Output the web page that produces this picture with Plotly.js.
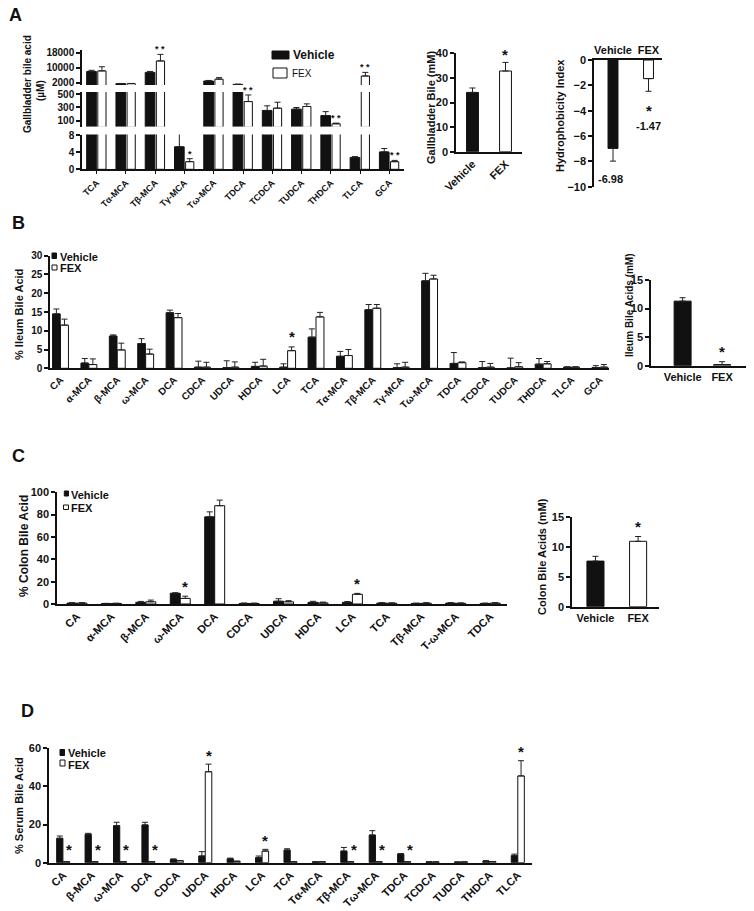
<!DOCTYPE html>
<html><head><meta charset="utf-8">
<script src="https://cdn.plot.ly/plotly-3.0.1.min.js"></script>
<style>html,body{margin:0;padding:0;background:#fff}#chart{width:754px;height:911px}</style>
</head><body><div id="chart"></div>
<script>
// ===== DATA =====
// Panel A: gallbladder bile acids (uM)
const gbCats = ['TCA','Tα-MCA','Tβ-MCA','Tγ-MCA','Tω-MCA','TDCA','TCDCA','TUDCA','THDCA','TLCA','GCA'];
const gbVeh    = [8000, 1500, 7500, 5.3, 2900, 1100, 255, 275, 177, 2.8, 4.1];
const gbVehErr = [600, 100, 500, 3.5, 300, 100, 70, 25, 60, 0.2, 0.8];
const gbFex    = [8300, 1500, 13600, 1.8, 3900, 390, 290, 315, 53, 5570, 1.8];
const gbFexErr = [2200, 100, 3500, 0.7, 800, 100, 90, 40, 10, 1930, 0.3];
const gbSig    = ['', '', '* *', '*', '', '* *', '', '', '* *', '* *', '* *'];
const gbSegTicks = [[0,4,8],[100,300,500],[2000,10000,18000]];
const gbSegMin = [0, 10, 773];

const grpCats = ['Vehicle','FEX'];
const gbTotal = [24.1, 32.8];
const gbTotalErr = [1.8, 3.5];
const gbTotalSig = ['', '*'];

const hydro = [-6.98, -1.47];
const hydroErr = [1.0, 1.0];
const hydroSig = ['', '*'];

// Panel B: ileum
const ilCats = ['CA','α-MCA','β-MCA','ω-MCA','DCA','CDCA','UDCA','HDCA','LCA','TCA','Tα-MCA','Tβ-MCA','Tγ-MCA','Tω-MCA','TDCA','TCDCA','TUDCA','THDCA','TLCA','GCA'];
const ilVeh    = [14.5, 1.4, 8.6, 6.6, 14.8, 0.3, 0.2, 0.5, 0.3, 8.3, 3.2, 15.6, 0.2, 23.3, 1.3, 0.2, 0.1, 1.1, 0.3, 0.2];
const ilVehErr = [1.3, 1.2, 0.3, 1.3, 0.7, 1.6, 1.8, 1.1, 0.9, 2.2, 1.3, 1.4, 1.0, 2.0, 2.9, 1.6, 2.6, 1.5, 0.1, 0.5];
const ilFex    = [11.5, 1.0, 4.9, 3.8, 13.5, 0.3, 0.3, 0.6, 4.7, 13.7, 3.4, 16.0, 0.3, 23.8, 1.5, 0.3, 0.4, 1.2, 0.3, 0.3];
const ilFexErr = [1.6, 1.5, 1.8, 1.3, 1.1, 1.3, 1.4, 1.8, 1.0, 1.2, 1.6, 1.0, 1.3, 1.0, 0.2, 1.0, 1.1, 0.6, 0.1, 0.7];
const ilSig    = ['','','','','','','','','*','','','','','','','','','','',''];
const ilTotal = [11.3, 0.2];
const ilTotalErr = [0.6, 0.5];
const ilTotalSig = ['', '*'];

// Panel C: colon
const coCats = ['CA','α-MCA','β-MCA','ω-MCA','DCA','CDCA','UDCA','HDCA','LCA','TCA','Tβ-MCA','T-ω-MCA','TDCA'];
const coVeh    = [0.8, 0.4, 1.5, 9.6, 78.0, 0.5, 2.5, 1.5, 1.5, 0.8, 0.5, 0.8, 0.5];
const coVehErr = [0.4, 0.2, 0.8, 0.5, 4.5, 0.4, 2.2, 0.9, 0.7, 0.4, 0.3, 0.4, 0.3];
const coFex    = [0.8, 0.5, 2.0, 5.0, 88.0, 0.5, 2.0, 1.0, 8.7, 0.7, 0.7, 0.6, 0.8];
const coFexErr = [0.4, 0.2, 1.5, 2.0, 5.0, 0.3, 1.0, 0.7, 0.8, 0.3, 0.5, 0.4, 0.5];
const coSig    = ['','','','*','','','','','*','','','',''];
const coTotal = [7.6, 10.9];
const coTotalErr = [0.8, 0.8];
const coTotalSig = ['', '*'];

// Panel D: serum
const seCats = ['CA','β-MCA','ω-MCA','DCA','CDCA','UDCA','HDCA','LCA','TCA','Tα-MCA','Tβ-MCA','Tω-MCA','TDCA','TCDCA','TUDCA','THDCA','TLCA'];
const seVeh    = [12.8, 14.9, 19.4, 19.8, 1.7, 3.5, 2.0, 2.6, 6.6, 0.4, 6.1, 14.5, 4.5, 0.4, 0.3, 0.8, 3.7];
const seVehErr = [1.2, 0.5, 1.8, 1.4, 0.3, 2.3, 0.4, 0.9, 0.7, 0.1, 1.9, 2.3, 0.3, 0.1, 0.1, 0.3, 0.8];
const seFex    = [0.5, 0.5, 0.5, 0.5, 1.0, 47.7, 0.7, 6.1, 0.5, 0.5, 0.5, 0.5, 0.5, 0.4, 0.4, 0.6, 45.5];
const seFexErr = [0, 0, 0, 0, 0.1, 4.0, 0.1, 0.9, 0, 0.1, 0, 0, 0, 0, 0, 0, 8.0];
const seSig    = ['*','*','*','*','','*','','*','','','*','*','*','','','','*'];

// ===== HELPERS =====
const W = 754, H = 911;
const FONT = 'Liberation Sans, Arial, sans-serif';
const INK = '#111111';
const fx = p => p / W;
const fy = p => 1 - p / H;
const f = (size, weight) => ({family: FONT, size: size, color: INK, weight: weight || 'bold'});
const zeros = n => new Array(n).fill(0);

function barTrace(cats, vals, errs, xa, ya, fill, offset, width, down) {
  const e = down
    ? {type: 'data', symmetric: false, array: zeros(vals.length), arrayminus: errs}
    : {type: 'data', symmetric: false, array: errs, arrayminus: zeros(vals.length)};
  return {
    type: 'bar', x: cats, y: vals, xaxis: xa, yaxis: ya,
    offset: offset, width: width,
    marker: {color: fill, line: {color: INK, width: 1}},
    error_y: Object.assign(e, {color: '#222222', thickness: 1, width: 3}),
    showlegend: false, hoverinfo: 'skip'
  };
}
function yax(top, bottom, range, extra) {
  return Object.assign({
    domain: [fy(bottom), fy(top)], range: range, showline: true, linecolor: INK, linewidth: 1.5,
    ticks: 'outside', ticklen: 4, tickwidth: 1.5, tickcolor: INK, showgrid: false, zeroline: false,
    fixedrange: true, tickfont: f(10)
  }, extra || {});
}
function xax(left, right, range, anchor, extra) {
  return Object.assign({
    domain: [fx(left), fx(right)], range: range, anchor: anchor, type: 'category',
    tickmode: 'linear', tick0: 0, dtick: 1,
    showline: true, linecolor: INK, linewidth: 1.5, ticks: '', showgrid: false, zeroline: false,
    fixedrange: true, tickangle: -45, tickfont: f(10)
  }, extra || {});
}
const annotations = [];
const shapes = [];
function paperText(xp, yp, text, size, extra) {
  annotations.push(Object.assign({xref: 'paper', yref: 'paper', x: fx(xp), y: fy(yp), text: text,
    showarrow: false, font: f(size), xanchor: 'center', yanchor: 'middle'}, extra || {}));
}
function starAt(xref, yref, x, y, text, size, yshift) {
  annotations.push({xref: xref, yref: yref, x: x, y: y, text: text, showarrow: false,
    font: f(size), xanchor: 'center', yanchor: 'middle', yshift: yshift});
}
function legendKey(x0, y0, x1, y1, fill, label, tx, ty, size, weight) {
  shapes.push({type: 'rect', xref: 'paper', yref: 'paper', x0: fx(x0), x1: fx(x1), y0: fy(y1), y1: fy(y0),
    fillcolor: fill, line: {color: INK, width: 1}});
  paperText(tx, ty, label, size, {xanchor: 'left', font: f(size, weight)});
}

const traces = [];

// ===== PANEL A left: broken axis in three segments =====
['y', 'y2', 'y3'].forEach((ya, k) => {
  const cut = v => v.map(x => x > gbSegMin[k] ? x : null);
  traces.push(barTrace(gbCats, cut(gbVeh), gbVehErr, 'x', ya, INK, -0.34, 0.33));
  traces.push(barTrace(gbCats, cut(gbFex), gbFexErr, 'x', ya, '#ffffff', 0.04, 0.28));
});
gbSig.forEach((s, i) => {
  if (!s) return;
  const v = gbFex[i] + gbFexErr[i];
  const ya = v > 600 ? 'y3' : (v > 9 ? 'y2' : 'y');
  starAt('x', ya, i + 0.18, v, s, 9, 5);
});

// A middle: total gallbladder bile
traces.push(barTrace([grpCats[0]], [gbTotal[0]], [gbTotalErr[0]], 'x2', 'y4', INK, -0.18, 0.36));
traces.push(barTrace([grpCats[1]], [gbTotal[1]], [gbTotalErr[1]], 'x2', 'y4', '#ffffff', -0.18, 0.36));
gbTotalSig.forEach((s, i) => { if (s) starAt('x2', 'y4', i, gbTotal[i] + gbTotalErr[i], s, 15, 8); });

// A right: hydrophobicity index
traces.push(barTrace([grpCats[0]], [hydro[0]], [hydroErr[0]], 'x3', 'y5', INK, -0.14, 0.28, true));
traces.push(barTrace([grpCats[1]], [hydro[1]], [hydroErr[1]], 'x3', 'y5', '#ffffff', -0.14, 0.28, true));
hydro.forEach((v, i) => {
  const low = v - hydroErr[i];
  if (hydroSig[i]) {
    starAt('x3', 'y5', i, low, hydroSig[i], 15, -19);
    starAt('x3', 'y5', i, low, v.toFixed(2), 11, -35);
  } else {
    starAt('x3', 'y5', i - 0.06, low, v.toFixed(2), 11, -18);
  }
});

// ===== PANEL B =====
traces.push(barTrace(ilCats, ilVeh, ilVehErr, 'x4', 'y6', INK, -0.28, 0.27));
traces.push(barTrace(ilCats, ilFex, ilFexErr, 'x4', 'y6', '#ffffff', 0.0, 0.28));
ilSig.forEach((s, i) => { if (s) starAt('x4', 'y6', i + 0.14, ilFex[i] + ilFexErr[i], s, 15, 10); });
traces.push(barTrace([grpCats[0]], [ilTotal[0]], [ilTotalErr[0]], 'x5', 'y7', INK, -0.215, 0.43));
traces.push(barTrace([grpCats[1]], [ilTotal[1]], [ilTotalErr[1]], 'x5', 'y7', '#ffffff', -0.215, 0.43));
ilTotalSig.forEach((s, i) => { if (s) starAt('x5', 'y7', i, ilTotal[i] + ilTotalErr[i], s, 15, 10); });

// ===== PANEL C =====
traces.push(barTrace(coCats, coVeh, coVehErr, 'x6', 'y8', INK, -0.29, 0.29));
traces.push(barTrace(coCats, coFex, coFexErr, 'x6', 'y8', '#ffffff', 0.0, 0.29));
coSig.forEach((s, i) => { if (s) starAt('x6', 'y8', i + 0.145, coFex[i] + coFexErr[i], s, 15, 10); });
traces.push(barTrace([grpCats[0]], [coTotal[0]], [coTotalErr[0]], 'x7', 'y9', INK, -0.2, 0.4));
traces.push(barTrace([grpCats[1]], [coTotal[1]], [coTotalErr[1]], 'x7', 'y9', '#ffffff', -0.2, 0.4));
coTotalSig.forEach((s, i) => { if (s) starAt('x7', 'y9', i, coTotal[i] + coTotalErr[i], s, 15, 10); });

// ===== PANEL D =====
traces.push(barTrace(seCats, seVeh, seVehErr, 'x8', 'y10', INK, -0.23, 0.22));
traces.push(barTrace(seCats, seFex, seFexErr, 'x8', 'y10', '#ffffff', 0.0, 0.23));
seSig.forEach((s, i) => {
  if (!s) return;
  const top = seFex[i] + seFexErr[i];
  if (top < 3) starAt('x8', 'y10', i + 0.22, 0, s, 15, 13);
  else starAt('x8', 'y10', i + 0.115, top, s, 15, 9);
});

// ===== TEXT: panel letters, axis titles, legends =====
paperText(15, 15, 'A', 18);
paperText(18, 223, 'B', 18);
paperText(18, 456, 'C', 18);
paperText(27, 711, 'D', 18);

paperText(27, 84, 'Gallbladder bile acid', 10, {textangle: -90});
paperText(40, 91, '(µM)', 10, {textangle: -90});
paperText(431, 108, 'Gallbladder Bile (mM)', 11, {textangle: -90});
paperText(560, 116, 'Hydrophobicity Index', 11, {textangle: -90});
paperText(19, 315, '% Ileum Bile Acid', 11, {textangle: -90});
paperText(629, 305, 'Ileum Bile Acids (mM)', 10, {textangle: -90});
paperText(24, 546, '% Colon Bile Acid', 12, {textangle: -90});
paperText(542, 557, 'Colon Bile Acids (mM)', 11, {textangle: -90});
paperText(19, 806, '% Serum Bile Acid', 11, {textangle: -90});

legendKey(272, 51, 289, 59, INK, 'Vehicle', 291, 55, 12);
legendKey(273, 68, 287, 78, '#ffffff', 'FEX', 290, 73, 10, 'normal');
legendKey(52, 253, 56.5, 258.5, INK, 'Vehicle', 57.5, 256.5, 11);
legendKey(52, 265, 57, 270, '#ffffff', 'FEX', 57.5, 268, 11);
legendKey(64.3, 491, 68.5, 496, INK, 'Vehicle', 69, 494.5, 11);
legendKey(63.5, 505, 68.5, 509.5, '#ffffff', 'FEX', 69, 507.5, 11);
legendKey(60, 749.5, 64.5, 755.5, INK, 'Vehicle', 65.5, 753, 11);
legendKey(60, 760, 65, 766, '#ffffff', 'FEX', 65.5, 765, 11);

// ===== LAYOUT =====
const layout = {
  width: W, height: H, margin: {l: 0, r: 0, t: 0, b: 0},
  paper_bgcolor: '#ffffff', plot_bgcolor: '#ffffff',
  barmode: 'overlay', showlegend: false,
  font: {family: FONT, size: 10, color: INK, weight: 'bold'},
  // A left
  xaxis: xax(82, 404, [-0.5, 10.5], 'y', {tickfont: f(9), ticks: 'outside', ticklen: 3, tickwidth: 1, tickcolor: INK}),
  yaxis: yax(134.5, 169.3, [0, 8.2], {anchor: 'x', tickmode: 'array', tickvals: gbSegTicks[0], ticktext: gbSegTicks[0].map(String)}),
  yaxis2: yax(92, 126.6, [10, 535], {anchor: 'x', tickmode: 'array', tickvals: gbSegTicks[1], ticktext: gbSegTicks[1].map(String)}),
  yaxis3: yax(50, 85, [773, 19440], {anchor: 'x', tickmode: 'array', tickvals: gbSegTicks[2], ticktext: gbSegTicks[2].map(String)}),
  // A middle
  xaxis2: xax(456, 522, [-0.5, 1.5], 'y4', {tickfont: f(11)}),
  yaxis4: yax(53.3, 151.7, [0, 40], {anchor: 'x2', dtick: 10, tickfont: f(11)}),
  // A right
  xaxis3: xax(594, 662, [-0.535, 1.38], 'y5', {side: 'top', tickangle: 0, tickfont: f(11)}),
  yaxis5: yax(60, 186.7, [-10, 0], {anchor: 'x3', dtick: 2, tickfont: f(11)}),
  // B
  xaxis4: xax(50, 609, [-0.37, 19.32], 'y6', {tickfont: f(10)}),
  yaxis6: yax(255.7, 368.3, [0, 30], {anchor: 'x4', dtick: 5}),
  xaxis5: xax(651, 746, [-0.8, 1.605], 'y7', {tickangle: 0, tickfont: f(11)}),
  yaxis7: yax(280, 365.7, [0, 15], {anchor: 'x5', dtick: 5, tickfont: f(11)}),
  // C
  xaxis6: xax(57, 507, [-0.58, 12.49], 'y8', {tickfont: f(11)}),
  yaxis8: yax(492.3, 604, [0, 100], {anchor: 'x6', dtick: 20, tickfont: f(11)}),
  xaxis7: xax(572, 659, [-0.55, 1.49], 'y9', {tickangle: 0, tickfont: f(11)}),
  yaxis9: yax(516.7, 606.7, [0, 15], {anchor: 'x7', dtick: 5, tickfont: f(11)}),
  // D
  xaxis8: xax(49, 532, [-0.5, 16.5], 'y10', {tickfont: f(11)}),
  yaxis10: yax(748.3, 862.7, [0, 60], {anchor: 'x8', dtick: 20, tickfont: f(11)}),
  annotations: annotations,
  shapes: shapes
};

Plotly.newPlot('chart', traces, layout, {displayModeBar: false});
</script>
</body></html>
